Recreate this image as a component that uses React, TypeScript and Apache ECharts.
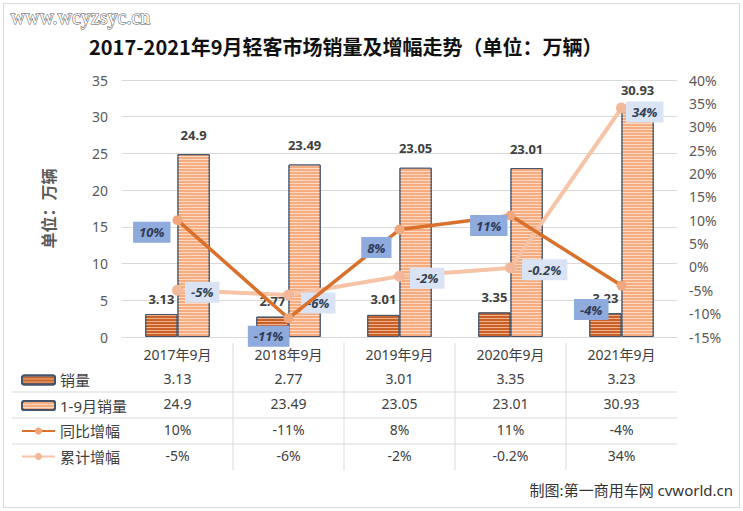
import React, { useEffect, useRef } from "react";
import * as echarts from "echarts";

const categories = ["2017年9月", "2018年9月", "2019年9月", "2020年9月", "2021年9月"];
const monthSales = [3.13, 2.77, 3.01, 3.35, 3.23];
const ytdSales = [24.9, 23.49, 23.05, 23.01, 30.93];
const yoyGrowth = [10, -11, 8, 11, -4];
const ytdGrowth = [-5, -6, -2, -0.2, 34];
const leftTicks = { min: 0, max: 35, interval: 5 };
const rightTicks = { min: -15, max: 40, interval: 5 };
const seriesNames = ["销量", "1-9月销量", "同比增幅", "累计增幅"];

// label layout offsets (style, not data)
const yoyLabelOffsets = [[3, 12], [11, 18], [2, 18], [7, 10], [-3, 24]];
const ytdLabelOffsets = [[-3, 2], [2, 8], [0, 2], [1, 2], [-6, 4]];

const FONT = '"Noto Sans", "Noto Sans CJK SC", sans-serif';
const GRID = { left: 122, right: 66, top: 80, bottom: 174 };

export default function App() {
  const ref = useRef<HTMLDivElement>(null);
  useEffect(() => {
    document.body.style.margin = "0";
    const chart = echarts.init(ref.current!, null, { renderer: "svg" });
    const pct = (v: number) => `${v}%`;
    const rowAxis = (vals: string[], offset: number) => ({
      type: "category",
      data: vals,
      position: "bottom",
      offset,
      axisLine: { show: false },
      axisTick: { show: false },
      axisLabel: { color: "#404040", fontSize: 14, fontFamily: FONT, margin: 10 },
      splitLine: { show: false },
    });
    const option: any = {
      animation: false,
      backgroundColor: "#ffffff",
      textStyle: { fontFamily: FONT },
      title: {
        text: "2017-2021年9月轻客市场销量及增幅走势（单位：万辆）",
        left: 84,
        top: 31,
        textStyle: { fontSize: 20, fontWeight: "bold", color: "#111", fontFamily: '"Noto Sans CJK SC", sans-serif' },
      },
      legend: {
        orient: "vertical",
        left: 16,
        top: 366,
        itemGap: 7.5,
        itemWidth: 33,
        itemHeight: 9,
        data: seriesNames,
        textStyle: { fontSize: 15, color: "#404040", lineHeight: 18, fontFamily: FONT },
      },
      grid: GRID,
      xAxis: [
        {
          type: "category",
          data: categories,
          axisLine: { lineStyle: { color: "#d9d9d9" } },
          axisTick: { show: false },
          axisLabel: { color: "#404040", fontSize: 14, margin: 10, fontFamily: FONT },
        },
        rowAxis(monthSales.map(String), 24),
        rowAxis(ytdSales.map(String), 49),
        rowAxis(yoyGrowth.map(pct), 75),
        rowAxis(ytdGrowth.map(pct), 101),
      ],
      yAxis: [
        {
          type: "value",
          ...leftTicks,
          name: "单位：万辆",
          nameLocation: "middle",
          nameGap: 66,
          nameRotate: 90,
          nameTextStyle: { fontSize: 16, fontWeight: "bold", color: "#595959", fontFamily: '"Noto Sans CJK SC", sans-serif' },
          axisLine: { show: false },
          axisTick: { show: false },
          axisLabel: { color: "#595959", fontSize: 14, margin: 14 },
          splitLine: { lineStyle: { color: "#d9d9d9" } },
        },
        {
          type: "value",
          ...rightTicks,
          axisLine: { show: false },
          axisTick: { show: false },
          axisLabel: { color: "#595959", fontSize: 14, margin: 12, formatter: (v: number) => `${v}%` },
          splitLine: { show: false },
        },
      ],
      series: [
        {
          name: seriesNames[0],
          type: "bar",
          data: monthSales,
          barGap: "0%",
          barCategoryGap: "42%",
          itemStyle: {
            color: "#C8612A",
            borderColor: "#44546A",
            borderWidth: 1,
            decal: { symbol: "rect", symbolSize: 1, dashArrayX: [1, 0], dashArrayY: [1, 2], color: "rgba(248,190,150,0.85)" },
          },
          label: { show: true, position: "top", distance: 9, fontSize: 13, fontWeight: "bold", color: "#404040" },
        },
        {
          name: seriesNames[1],
          type: "bar",
          data: ytdSales,
          itemStyle: {
            color: "#F4AC80",
            borderColor: "#44546A",
            borderWidth: 1,
            decal: { symbol: "rect", symbolSize: 1, dashArrayX: [1, 0], dashArrayY: [1, 2], color: "rgba(253,222,200,0.9)" },
          },
          label: { show: true, position: "top", distance: 13, fontSize: 13, fontWeight: "bold", color: "#404040" },
        },
        {
          name: seriesNames[2],
          type: "line",
          yAxisIndex: 1,
          z: 5,
          data: yoyGrowth.map((v, i) => ({
            value: v,
            label: { offset: yoyLabelOffsets[i] },
          })),
          symbol: "circle",
          symbolSize: 10,
          lineStyle: { color: "#D9702B", width: 3.5 },
          itemStyle: { color: "#F1A77D" },
          label: {
            show: true,
            position: "left",
            distance: 5,
            formatter: (p: any) => `${p.value}%`,
            backgroundColor: "#8FAADC",
            padding: [4, 6],
            fontSize: 13,
            fontWeight: "bold",
            fontStyle: "italic",
            color: "#2F3B55",
          },
        },
        {
          name: seriesNames[3],
          type: "line",
          yAxisIndex: 1,
          z: 4,
          data: ytdGrowth.map((v, i) => ({
            value: v,
            label: { offset: ytdLabelOffsets[i] },
          })),
          symbol: "circle",
          symbolSize: 11,
          lineStyle: { color: "#F6C3A7", width: 4 },
          itemStyle: { color: "#F3B79A" },
          label: {
            show: true,
            position: "right",
            distance: 5,
            formatter: (p: any) => `${p.value}%`,
            backgroundColor: "#DAE3F3",
            padding: [4, 6],
            fontSize: 13,
            fontWeight: "bold",
            fontStyle: "italic",
            color: "#333F50",
          },
        },
      ],
    };
    chart.setOption(option);

    // table separators computed from the category axis
    const xs: number[] = [];
    for (let i = 0; i < categories.length - 1; i++) {
      const a = chart.convertToPixel({ xAxisIndex: 0 }, categories[i]) as number;
      const b = chart.convertToPixel({ xAxisIndex: 0 }, categories[i + 1]) as number;
      xs.push((a + b) / 2);
    }
    const lastX = chart.convertToPixel({ xAxisIndex: 0 }, categories[categories.length - 1]) as number;
    const rightEdge = lastX + (xs.length ? (lastX - xs[xs.length - 1]) : 0);
    const elements: any[] = [
      { type: "rect", shape: { x: 3.5, y: 3.5, width: 736, height: 504 }, style: { fill: "none", stroke: "#d9d9d9", lineWidth: 1 }, silent: true },
      {
        type: "text",
        left: 10,
        top: 6,
        style: { text: "www.wcyzsyc.cn", fill: "#ffffff", stroke: "#555", lineWidth: 1, fontSize: 20, fontFamily: '"Liberation Serif", serif' },
        z: 100,
      },
      {
        type: "text",
        right: 10,
        top: 482,
        style: { text: "制图:第一商用车网 cvworld.cn", fill: "#333", fontSize: 15, fontFamily: FONT },
      },
    ];
    xs.forEach((x) => {
      elements.push({ type: "line", shape: { x1: x, y1: 343, x2: x, y2: 470 }, style: { stroke: "#d9d9d9", lineWidth: 1 }, silent: true });
    });
    [392, 418, 444].forEach((y) => {
      elements.push({ type: "line", shape: { x1: 12, y1: y, x2: rightEdge, y2: y }, style: { stroke: "#d9d9d9", lineWidth: 1 }, silent: true });
    });
    chart.setOption({ graphic: { elements } });

    return () => chart.dispose();
  }, []);
  return <div ref={ref} style={{ width: 743, height: 511 }} />;
}
